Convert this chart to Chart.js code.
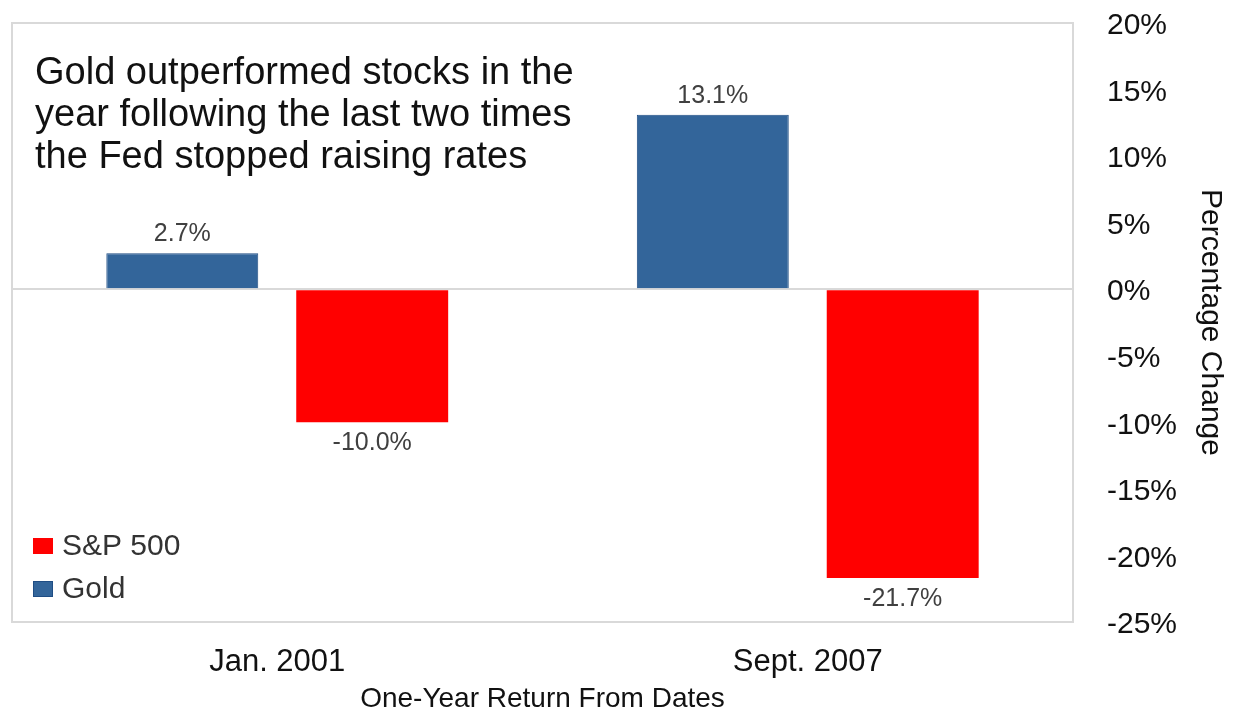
<!DOCTYPE html>
<html>
<head>
<meta charset="utf-8">
<script src="https://cdn.jsdelivr.net/npm/chart.js@4"></script>
<style>
    html, body { margin: 0; padding: 0; background: #fff; }
    #wrap { width: 1243px; height: 714px; position: relative; }
</style>
</head>
<body>
<div id="wrap"><canvas id="returnsChart"></canvas></div>
<script>
// Data
const categories = ['Jan. 2001', 'Sept. 2007'];
const goldValues = [2.7, 13.1];
const spValues = [-10.0, -21.7];
const seriesNames = ['Gold', 'S&P 500'];
const yTicks = [20, 15, 10, 5, 0, -5, -10, -15, -20, -25];
const noteLines = [
    'Gold outperformed stocks in the',
    'year following the last two times',
    'the Fed stopped raising rates'
];

const FONT = "'Liberation Sans', Arial, sans-serif";

// Frame around the plot area + note text
const framePlugin = {
    id: 'frame',
    beforeDatasetsDraw(chart) {
        const { ctx, chartArea: a } = chart;
        ctx.save();
        ctx.strokeStyle = '#d9d9d9';
        ctx.lineWidth = 2;
        ctx.strokeRect(a.left, a.top, a.right - a.left, a.bottom - a.top);
        ctx.restore();
    },
    afterDraw(chart) {
        const { ctx, chartArea: a } = chart;
        ctx.save();
        ctx.fillStyle = '#111';
        ctx.font = '38px ' + FONT;
        ctx.textBaseline = 'alphabetic';
        ctx.textAlign = 'left';
        noteLines.forEach((line, i) => {
            ctx.fillText(line, a.left + 23, a.top + 61 + i * 42);
        });
        ctx.restore();
    }
};

// Value labels above / below bars
const valueLabels = {
    id: 'valueLabels',
    afterDatasetsDraw(chart) {
        const { ctx } = chart;
        ctx.save();
        ctx.font = '25px ' + FONT;
        ctx.fillStyle = '#404040';
        ctx.textAlign = 'center';
        ctx.textBaseline = 'middle';
        chart.data.datasets.forEach((ds, i) => {
            chart.getDatasetMeta(i).data.forEach((bar, j) => {
                const v = ds.data[j];
                const y = v >= 0 ? bar.y - 19 : bar.y + 21;
                ctx.fillText(v.toFixed(1) + '%', bar.x, y);
            });
        });
        ctx.restore();
    }
};

// Legend drawn inside the plot, bottom-left, reversed order
const innerLegend = {
    id: 'innerLegend',
    afterDraw(chart) {
        const { ctx, chartArea: a } = chart;
        const items = chart.data.datasets.slice().reverse();
        ctx.save();
        ctx.font = '30px ' + FONT;
        ctx.textBaseline = 'middle';
        ctx.textAlign = 'left';
        items.forEach((ds, i) => {
            const cy = 546 + i * 43;
            ctx.fillStyle = ds.backgroundColor;
            ctx.fillRect(a.left + 21, cy - 8, 20, 16);
            if (ds.borderWidth) {
                ctx.strokeStyle = ds.borderColor;
                ctx.lineWidth = 1;
                ctx.strokeRect(a.left + 21.5, cy - 7.5, 19, 15);
            }
            ctx.fillStyle = '#333';
            ctx.fillText(ds.label, a.left + 50, cy + 1);
        });
        ctx.restore();
    }
};

const ctx = document.getElementById('returnsChart').getContext('2d');

new Chart(ctx, {
    type: 'bar',
    data: {
        labels: categories,
        datasets: [
            {
                label: seriesNames[0],
                data: goldValues,
                backgroundColor: '#33659a',
                borderColor: '#1f4d84',
                borderWidth: 1
            },
            {
                label: seriesNames[1],
                data: spValues,
                backgroundColor: '#ff0000',
                borderWidth: 0
            }
        ]
    },
    options: {
        responsive: true,
        maintainAspectRatio: false,
        animation: false,
        layout: {
            padding: { left: 12, top: 23, right: 0, bottom: 0 }
        },
        datasets: {
            bar: {
                categoryPercentage: 0.716,
                barPercentage: 0.8
            }
        },
        scales: {
            x: {
                grid: { display: false },
                border: { display: false },
                ticks: {
                    color: '#111',
                    font: { family: FONT, size: 31 },
                    padding: 14
                },
                title: {
                    display: true,
                    text: 'One-Year Return From Dates',
                    color: '#111',
                    font: { family: FONT, size: 28 },
                    padding: { top: 0, bottom: -2 }
                },
                afterFit(scale) {
                    scale.height = 92;
                    scale.paddingLeft = 0;
                    scale.paddingRight = 0;
                }
            },
            y: {
                position: 'right',
                min: -25,
                max: 20,
                afterBuildTicks(scale) {
                    scale.ticks = yTicks.map(v => ({ value: v }));
                },
                grid: {
                    drawTicks: false,
                    lineWidth: 2,
                    color: c => (c.tick && c.tick.value === 0 ? '#d9d9d9' : 'rgba(0,0,0,0)')
                },
                border: { display: false },
                ticks: {
                    color: '#111',
                    font: { family: FONT, size: 30 },
                    padding: 34,
                    labelOffset: 3,
                    callback: v => v + '%'
                },
                title: {
                    display: true,
                    text: 'Percentage Change',
                    color: '#111',
                    font: { family: FONT, size: 30 },
                    padding: { top: 15, bottom: 0 }
                },
                afterFit(scale) {
                    scale.width = 170;
                    scale.paddingTop = 0;
                    scale.paddingBottom = 0;
                }
            }
        },
        plugins: {
            legend: { display: false },
            tooltip: { enabled: false }
        }
    },
    plugins: [framePlugin, valueLabels, innerLegend]
});
</script>
</body>
</html>
